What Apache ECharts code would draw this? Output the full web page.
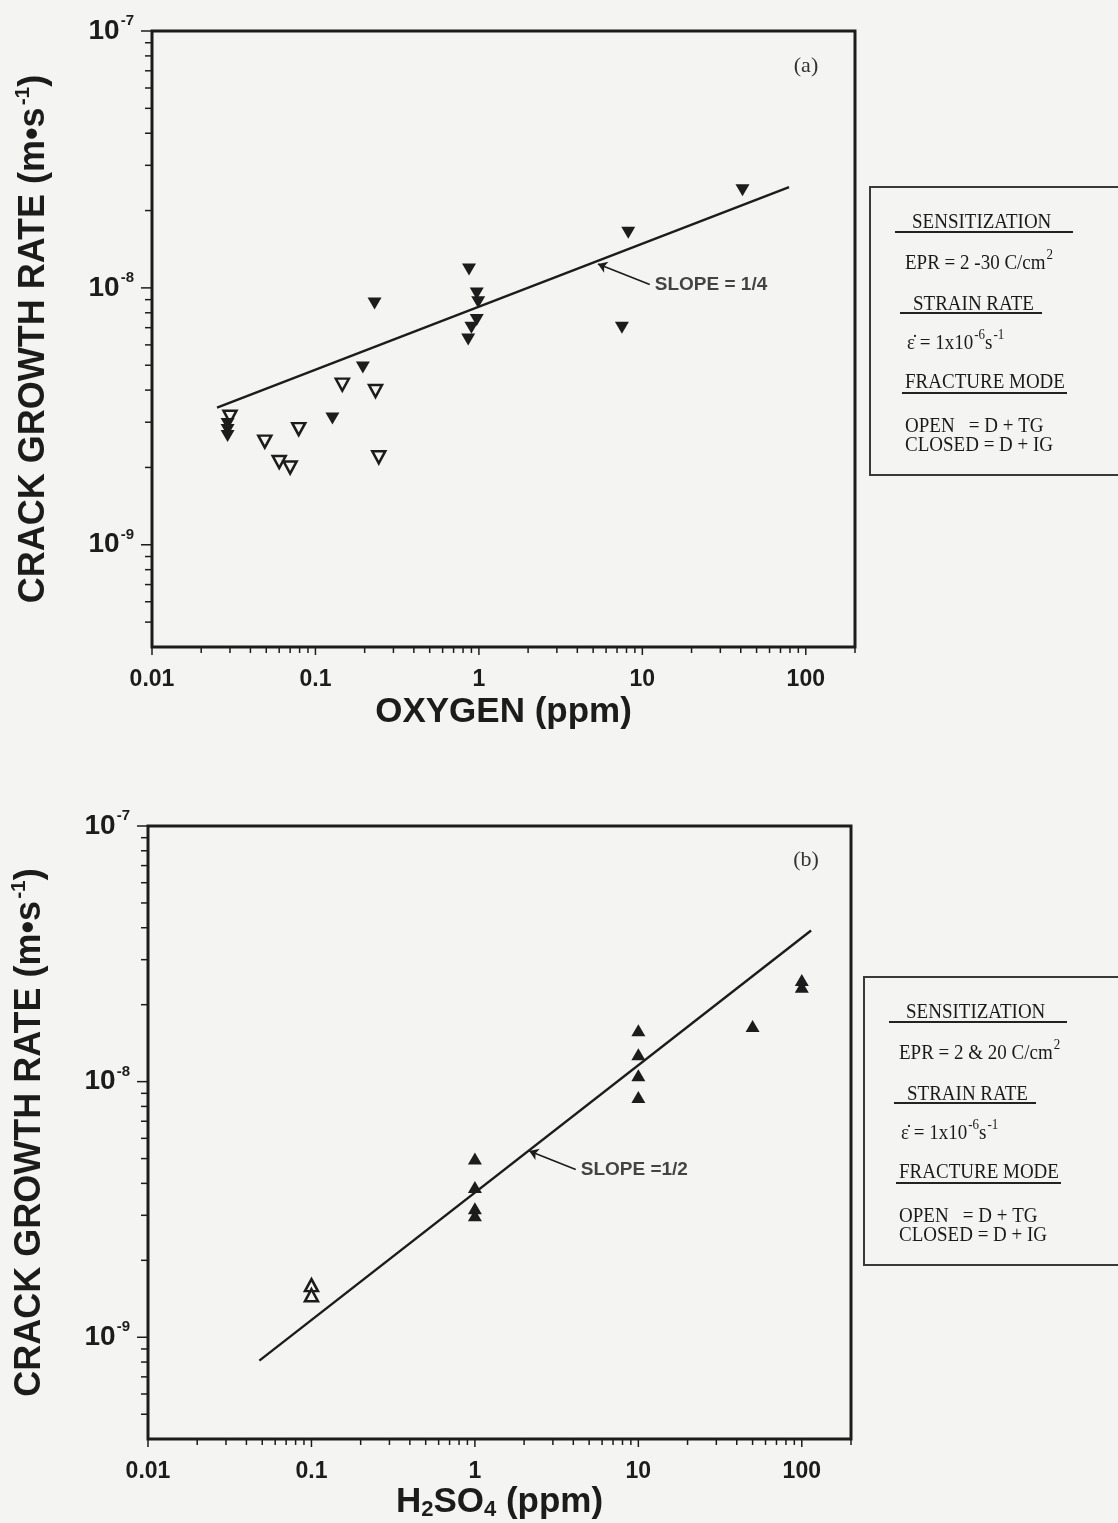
<!DOCTYPE html>
<html>
<head>
<meta charset="utf-8">
<script src="https://cdn.jsdelivr.net/npm/echarts/dist/echarts.min.js"></script>
<style>
html, body { margin: 0; padding: 0; background: #f4f4f2; }
#chart { width: 1118px; height: 1523px; }
</style>
</head>
<body>
<div id="chart"></div>
<script>
// panel (a): crack growth rate vs dissolved oxygen
const oxygenClosed = [
  [41, 2.4e-8], [8.2, 1.64e-8], [7.5, 7.0e-9],
  [0.87, 1.18e-8], [0.97, 9.5e-9], [0.99, 8.8e-9], [0.97, 7.5e-9], [0.9, 7.0e-9], [0.86, 6.3e-9],
  [0.23, 8.7e-9], [0.195, 4.9e-9], [0.127, 3.1e-9],
  [0.029, 2.95e-9], [0.029, 2.8e-9], [0.029, 2.65e-9]
]
const oxygenOpen = [
  [0.03, 3.15e-9], [0.049, 2.52e-9], [0.06, 2.1e-9], [0.07, 2.0e-9], [0.079, 2.82e-9],
  [0.146, 4.2e-9], [0.233, 3.97e-9], [0.244, 2.19e-9]
]
const oxygenFit = [[0.025, 3.42e-9], [79, 2.47e-8]]
const oxygenArrow = [[11.1, 1.03e-8], [5.35, 1.24e-8]]

// panel (b): crack growth rate vs H2SO4
const acidClosed = [
  [1, 5.0e-9], [1, 3.87e-9], [1, 3.2e-9], [1, 3.0e-9],
  [10, 1.59e-8], [10, 1.28e-8], [10, 1.06e-8], [10, 8.7e-9],
  [50, 1.65e-8], [100, 2.5e-8], [100, 2.35e-8]
]
const acidOpen = [[0.1, 1.6e-9], [0.1, 1.46e-9]]
const acidFit = [[0.048, 8.1e-10], [114, 3.9e-8]]
const acidArrow = [[4.14, 4.53e-9], [2.15, 5.35e-9]]

// axes
const xRange = [0.01, 200]
const yRange = [4e-10, 1e-7]
const xTickValues = [0.01, 0.1, 1, 10, 100]
const xTickLabels = ['0.01', '0.1', '1', '10', '100']
const yTickValues = [1e-9, 1e-8, 1e-7]
const minorSteps = [2, 3, 4, 5, 6, 7, 8, 9]

const legendA = ['SENSITIZATION', 'EPR = 2 -30 C/cm{s|2}', 'STRAIN RATE', 'ε̇ = 1x10{s|-6}s{s|-1}', 'FRACTURE MODE', 'OPEN   = D + TG', 'CLOSED = D + IG']
const legendB = ['SENSITIZATION', 'EPR = 2 & 20 C/cm{s|2}', 'STRAIN RATE', 'ε̇ = 1x10{s|-6}s{s|-1}', 'FRACTURE MODE', 'OPEN   = D + TG', 'CLOSED = D + IG']

const bg = '#f4f4f2'
const ink = '#1c1c1c'
const sans = '"Liberation Sans", Arial, sans-serif'
const serif = '"Liberation Serif", "Times New Roman", serif'

function minorTicks (range) {
  let out = []
  for (let d = Math.floor(Math.log10(range[0])); d <= Math.ceil(Math.log10(range[1])); d++) {
    minorSteps.forEach(m => {
      const v = m * Math.pow(10, d)
      if (v > range[0] * 1.0001 && v <= range[1] * 1.0001) out.push(v)
    })
  }
  return out
}

function isDecade (v) {
  const l = Math.log10(v)
  return Math.abs(l - Math.round(l)) < 1e-6
}

function xAxis (idx, name, gap, rich) {
  return {
    type: 'log', gridIndex: idx, min: xRange[0], max: xRange[1],
    axisLine: { show: false }, axisTick: { show: false }, splitLine: { show: false },
    axisLabel: {
      margin: 21, color: ink, fontFamily: sans, fontWeight: 'bold', fontSize: 23,
      formatter: function (v) {
        if (!isDecade(v)) return ''
        const i = xTickValues.findIndex(t => Math.abs(Math.log10(t) - Math.log10(v)) < 1e-6)
        return i < 0 ? '' : xTickLabels[i]
      }
    },
    name: name, nameLocation: 'middle', nameGap: gap,
    nameTextStyle: { color: ink, fontFamily: sans, fontWeight: 'bold', fontSize: 35, rich: rich }
  }
}

function yAxis (idx) {
  return {
    type: 'log', gridIndex: idx, min: yRange[0], max: yRange[1],
    axisLine: { show: false }, axisTick: { show: false }, splitLine: { show: false },
    axisLabel: {
      margin: 18, color: ink,
      formatter: function (v) {
        if (!isDecade(v)) return ''
        return '{b|10}{s|' + Math.round(Math.log10(v)) + '}'
      },
      rich: {
        b: { fontFamily: sans, fontWeight: 'bold', fontSize: 28, color: ink },
        s: { fontFamily: sans, fontWeight: 'bold', fontSize: 15, color: ink, padding: [0, 0, 20, 1] }
      }
    },
    name: 'CRACK GROWTH RATE (m•s{sup|-1})', nameLocation: 'middle', nameGap: 96, nameRotate: 90,
    nameTextStyle: {
      color: ink, fontFamily: sans, fontWeight: 'bold', fontSize: 36,
      rich: { sup: { fontFamily: sans, fontWeight: 'bold', fontSize: 21, color: ink, padding: [0, 0, 22, 2] } }
    }
  }
}

function xTickSeries (idx) {
  const data = xTickValues.map(v => [v, yRange[0], 8]).concat(minorTicks(xRange).map(v => [v, yRange[0], 6]))
  return {
    type: 'custom', xAxisIndex: idx, yAxisIndex: idx, silent: true, clip: false, z: 1,
    data: data,
    renderItem: function (params, api) {
      const p = api.coord([api.value(0), api.value(1)])
      return { type: 'line', shape: { x1: p[0], y1: p[1], x2: p[0], y2: p[1] + api.value(2) }, style: { stroke: ink, lineWidth: 1.5 } }
    }
  }
}

function yTickSeries (idx) {
  const data = yTickValues.map(v => [xRange[0], v, 11]).concat(minorTicks(yRange).map(v => [xRange[0], v, 7]))
  return {
    type: 'custom', xAxisIndex: idx, yAxisIndex: idx, silent: true, clip: false, z: 1,
    data: data,
    renderItem: function (params, api) {
      const p = api.coord([api.value(0), api.value(1)])
      return { type: 'line', shape: { x1: p[0], y1: p[1], x2: p[0] - api.value(2), y2: p[1] }, style: { stroke: ink, lineWidth: 1.5 } }
    }
  }
}

function panelSeries (idx, closed, open, fit, arrow, slopeText, rotate) {
  return [
    {
      type: 'line', xAxisIndex: idx, yAxisIndex: idx, data: fit, symbol: 'none', silent: true,
      lineStyle: { color: ink, width: 2.4 }, z: 2
    },
    {
      type: 'scatter', xAxisIndex: idx, yAxisIndex: idx, data: open, symbol: 'triangle',
      symbolSize: [13, 12], symbolRotate: rotate,
      itemStyle: { color: bg, borderColor: ink, borderWidth: 2.5, opacity: 1 }, z: 3
    },
    {
      type: 'scatter', xAxisIndex: idx, yAxisIndex: idx, data: closed, symbol: 'triangle',
      symbolSize: [14, 12], symbolRotate: rotate,
      itemStyle: { color: ink, opacity: 1 }, z: 4
    },
    {
      type: 'lines', coordinateSystem: 'cartesian2d', xAxisIndex: idx, yAxisIndex: idx, silent: true,
      data: [{ coords: arrow }], symbol: ['none', 'arrow'], symbolSize: 9,
      lineStyle: { color: ink, width: 1.6, opacity: 1, curveness: 0 }, z: 3
    },
    {
      type: 'scatter', xAxisIndex: idx, yAxisIndex: idx, data: [arrow[0]], symbolSize: 0, silent: true,
      label: {
        show: true, position: 'right', distance: 5, formatter: slopeText,
        color: '#161616', fontFamily: sans, fontWeight: 'bold', fontSize: 19
      }
    }
  ]
}

function legendBox (x, y, lines) {
  const els = [{
    type: 'rect', shape: { x: x, y: y, width: 300, height: 288 },
    style: { fill: 'none', stroke: '#3a3a3a', lineWidth: 2 }
  }]
  const rows = [[42, 35], [35, 76], [43, 117], [37, 156], [35, 195], [35, 239], [35, 258]]
  const unders = [[25, 45, 203], [30, 126, 172], [32, 206, 197]]
  lines.forEach((t, i) => {
    els.push({
      type: 'text', x: x + rows[i][0], y: y + rows[i][1], scaleY: 1.12,
      style: {
        text: t, fontFamily: serif, fontSize: 19, fill: '#1a1a1a', verticalAlign: 'middle',
        rich: { s: { fontFamily: serif, fontSize: 13, fill: '#1a1a1a', padding: [0, 0, 14, 1] } }
      }
    })
  })
  unders.forEach(u => {
    els.push({
      type: 'line', shape: { x1: x + u[0], y1: y + u[1], x2: x + u[2], y2: y + u[1] },
      style: { stroke: '#222', lineWidth: 2 }
    })
  })
  return els
}

const chart = echarts.init(document.getElementById('chart'), null, { renderer: 'canvas' })
const option = {
  backgroundColor: bg,
  animation: false,
  grid: [
    { left: 152, top: 31, width: 703, height: 616, show: true, borderColor: ink, borderWidth: 3, backgroundColor: 'transparent' },
    { left: 148, top: 826, width: 703, height: 613, show: true, borderColor: ink, borderWidth: 3, backgroundColor: 'transparent' }
  ],
  xAxis: [
    xAxis(0, 'OXYGEN (ppm)', 48),
    xAxis(1, '{t|H}{d|2}{t|SO}{d|4}{t| (ppm)}', 44, {
      t: { fontFamily: sans, fontWeight: 'bold', fontSize: 35, color: ink },
      d: { fontFamily: sans, fontWeight: 'bold', fontSize: 22, color: ink, padding: [16, 0, 0, 0] }
    })
  ],
  yAxis: [yAxis(0), yAxis(1)],
  series: []
    .concat(panelSeries(0, oxygenClosed, oxygenOpen, oxygenFit, oxygenArrow, 'SLOPE = 1/4', 180))
    .concat(panelSeries(1, acidClosed, acidOpen, acidFit, acidArrow, 'SLOPE =1/2', 0))
    .concat([xTickSeries(0), yTickSeries(0), xTickSeries(1), yTickSeries(1)]),
  graphic: [
    { type: 'text', x: 806, y: 66, style: { text: '(a)', fontFamily: serif, fontSize: 22, fill: '#333', align: 'center', verticalAlign: 'middle' } },
    { type: 'text', x: 806, y: 860, style: { text: '(b)', fontFamily: serif, fontSize: 22, fill: '#333', align: 'center', verticalAlign: 'middle' } }
  ].concat(legendBox(870, 187, legendA)).concat(legendBox(864, 977, legendB))
}
chart.setOption(option)
</script>
</body>
</html>
